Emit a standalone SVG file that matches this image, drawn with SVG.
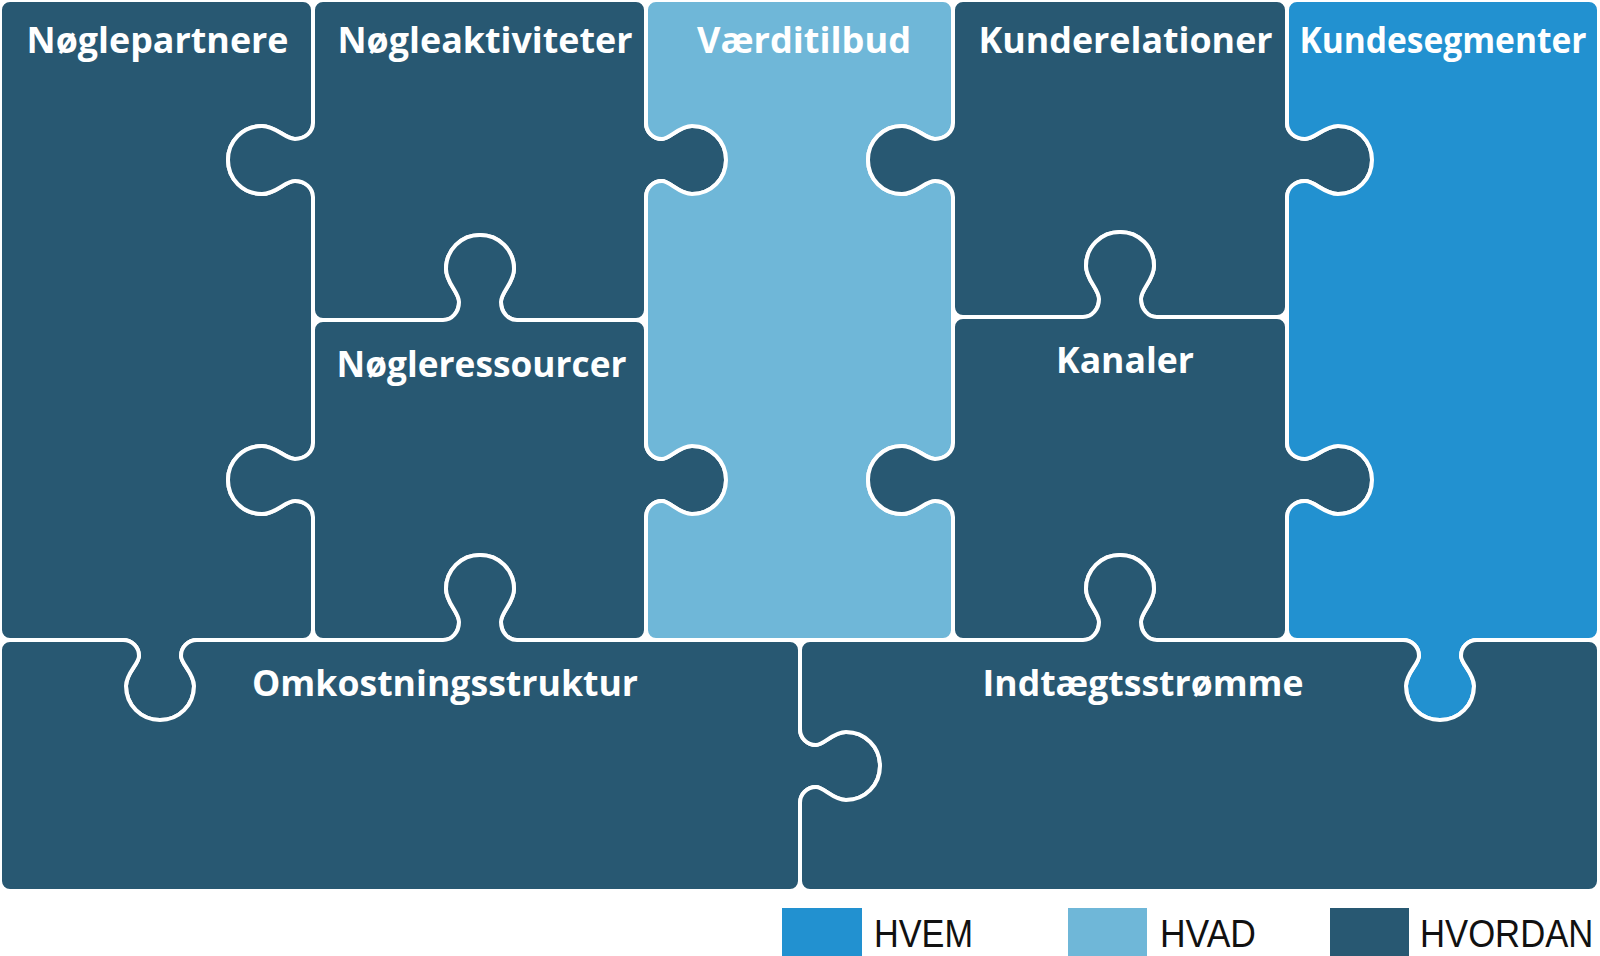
<svg xmlns="http://www.w3.org/2000/svg" width="1600" height="956" viewBox="0 0 1600 956">
<style>
.p{stroke:#fff;stroke-width:4;stroke-linejoin:round}
.d{fill:#285872}
.l{fill:#6fb7d8}
.b{fill:#2291d0}
.t{font-family:"Open Sans","Noto Sans","DejaVu Sans",sans-serif;font-weight:700;font-size:36px;fill:#fff;text-anchor:middle}
.g{font-family:"Liberation Sans",Arial,sans-serif;font-size:39px;fill:#111}
</style>
<rect width="1600" height="956" fill="#fff"/>
<g id="noeglepartnere">
<path class="p d" d="M10,0 H303 A10,10 0 0 1 313,10 V123 c0,9 -8,16 -18,16 c-10,0 -19,-13 -33,-13 c-19,0 -34,15 -34,34 c0,19 15,34 34,34 c14,0 23,-13 33,-13 c10,0 18,7 18,16 V443 c0,9 -8,16 -18,16 c-10,0 -19,-13 -33,-13 c-19,0 -34,15 -34,34 c0,19 15,34 34,34 c14,0 23,-13 33,-13 c10,0 18,7 18,16 V630 A10,10 0 0 1 303,640 H197 c-9,0 -16,7 -16,16 c0,8 13,17 13,30 c0,19 -15,34 -34,34 c-19,0 -34,-15 -34,-34 c0,-13 13,-22 13,-30 c0,-9 -7,-16 -16,-16 H10 A10,10 0 0 1 0,630 V10 A10,10 0 0 1 10,0 Z"/>
<text class="t" transform="translate(157.5,53) scale(0.92,1)" textLength="284.8" lengthAdjust="spacingAndGlyphs">Nøglepartnere</text>
</g>
<g id="noegleaktiviteter">
<path class="p d" d="M323,0 H636 A10,10 0 0 1 646,10 V123 c0,9 7,16 16,16 c8,0 17,-13 30,-13 c19,0 34,15 34,34 c0,19 -15,34 -34,34 c-13,0 -22,-13 -30,-13 c-9,0 -16,7 -16,16 V310 A10,10 0 0 1 636,320 H517 c-9,0 -16,-8 -16,-18 c0,-10 13,-19 13,-33 c0,-19 -15,-34 -34,-34 c-19,0 -34,15 -34,34 c0,14 13,23 13,33 c0,10 -7,18 -16,18 H323 A10,10 0 0 1 313,310 V197 c0,-9 -8,-16 -18,-16 c-10,0 -19,13 -33,13 c-19,0 -34,-15 -34,-34 c0,-19 15,-34 34,-34 c14,0 23,13 33,13 c10,0 18,-7 18,-16 V10 A10,10 0 0 1 323,0 Z"/>
<text class="t" transform="translate(485,53) scale(0.92,1)" textLength="320.7" lengthAdjust="spacingAndGlyphs">Nøgleaktiviteter</text>
</g>
<g id="noegleressourcer">
<path class="p d" d="M323,320 H443 c9,0 16,-8 16,-18 c0,-10 -13,-19 -13,-33 c0,-19 15,-34 34,-34 c19,0 34,15 34,34 c0,14 -13,23 -13,33 c0,10 7,18 16,18 H636 A10,10 0 0 1 646,330 V443 c0,9 7,16 16,16 c8,0 17,-13 30,-13 c19,0 34,15 34,34 c0,19 -15,34 -34,34 c-13,0 -22,-13 -30,-13 c-9,0 -16,7 -16,16 V630 A10,10 0 0 1 636,640 H517 c-9,0 -16,-8 -16,-18 c0,-10 13,-19 13,-33 c0,-19 -15,-34 -34,-34 c-19,0 -34,15 -34,34 c0,14 13,23 13,33 c0,10 -7,18 -16,18 H323 A10,10 0 0 1 313,630 V517 c0,-9 -8,-16 -18,-16 c-10,0 -19,13 -33,13 c-19,0 -34,-15 -34,-34 c0,-19 15,-34 34,-34 c14,0 23,13 33,13 c10,0 18,-7 18,-16 V330 A10,10 0 0 1 323,320 Z"/>
<text class="t" transform="translate(481.5,377) scale(0.92,1)" textLength="315.2" lengthAdjust="spacingAndGlyphs">Nøgleressourcer</text>
</g>
<g id="vaerditilbud">
<path class="p l" d="M656,0 H943 A10,10 0 0 1 953,10 V123 c0,9 -8,16 -18,16 c-10,0 -19,-13 -33,-13 c-19,0 -34,15 -34,34 c0,19 15,34 34,34 c14,0 23,-13 33,-13 c10,0 18,7 18,16 V443 c0,9 -8,16 -18,16 c-10,0 -19,-13 -33,-13 c-19,0 -34,15 -34,34 c0,19 15,34 34,34 c14,0 23,-13 33,-13 c10,0 18,7 18,16 V630 A10,10 0 0 1 943,640 H656 A10,10 0 0 1 646,630 V517 c0,-9 7,-16 16,-16 c8,0 17,13 30,13 c19,0 34,-15 34,-34 c0,-19 -15,-34 -34,-34 c-13,0 -22,13 -30,13 c-9,0 -16,-7 -16,-16 V197 c0,-9 7,-16 16,-16 c8,0 17,13 30,13 c19,0 34,-15 34,-34 c0,-19 -15,-34 -34,-34 c-13,0 -22,13 -30,13 c-9,0 -16,-7 -16,-16 V10 A10,10 0 0 1 656,0 Z"/>
<text class="t" transform="translate(804,53) scale(0.92,1)" textLength="232.6" lengthAdjust="spacingAndGlyphs">Værditilbud</text>
</g>
<g id="kunderelationer">
<path class="p d" d="M963,0 H1277 A10,10 0 0 1 1287,10 V123 c0,9 8,16 18,16 c10,0 19,-13 33,-13 c19,0 34,15 34,34 c0,19 -15,34 -34,34 c-14,0 -23,-13 -33,-13 c-10,0 -18,7 -18,16 V307 A10,10 0 0 1 1277,317 H1157 c-9,0 -16,-8 -16,-18 c0,-10 13,-19 13,-33 c0,-19 -15,-34 -34,-34 c-19,0 -34,15 -34,34 c0,14 13,23 13,33 c0,10 -7,18 -16,18 H963 A10,10 0 0 1 953,307 V197 c0,-9 -8,-16 -18,-16 c-10,0 -19,13 -33,13 c-19,0 -34,-15 -34,-34 c0,-19 15,-34 34,-34 c14,0 23,13 33,13 c10,0 18,-7 18,-16 V10 A10,10 0 0 1 963,0 Z"/>
<text class="t" transform="translate(1125.5,53) scale(0.92,1)" textLength="319.6" lengthAdjust="spacingAndGlyphs">Kunderelationer</text>
</g>
<g id="kanaler">
<path class="p d" d="M963,317 H1083 c9,0 16,-8 16,-18 c0,-10 -13,-19 -13,-33 c0,-19 15,-34 34,-34 c19,0 34,15 34,34 c0,14 -13,23 -13,33 c0,10 7,18 16,18 H1277 A10,10 0 0 1 1287,327 V443 c0,9 8,16 18,16 c10,0 19,-13 33,-13 c19,0 34,15 34,34 c0,19 -15,34 -34,34 c-14,0 -23,-13 -33,-13 c-10,0 -18,7 -18,16 V630 A10,10 0 0 1 1277,640 H1157 c-9,0 -16,-8 -16,-18 c0,-10 13,-19 13,-33 c0,-19 -15,-34 -34,-34 c-19,0 -34,15 -34,34 c0,14 13,23 13,33 c0,10 -7,18 -16,18 H963 A10,10 0 0 1 953,630 V517 c0,-9 -8,-16 -18,-16 c-10,0 -19,13 -33,13 c-19,0 -34,-15 -34,-34 c0,-19 15,-34 34,-34 c14,0 23,13 33,13 c10,0 18,-7 18,-16 V327 A10,10 0 0 1 963,317 Z"/>
<text class="t" transform="translate(1125,373) scale(0.92,1)" textLength="150" lengthAdjust="spacingAndGlyphs">Kanaler</text>
</g>
<g id="kundesegmenter">
<path class="p b" d="M1297,0 H1589 A10,10 0 0 1 1599,10 V630 A10,10 0 0 1 1589,640 H1477 c-9,0 -16,7 -16,16 c0,8 13,17 13,30 c0,19 -15,34 -34,34 c-19,0 -34,-15 -34,-34 c0,-13 13,-22 13,-30 c0,-9 -7,-16 -16,-16 H1297 A10,10 0 0 1 1287,630 V517 c0,-9 8,-16 18,-16 c10,0 19,13 33,13 c19,0 34,-15 34,-34 c0,-19 -15,-34 -34,-34 c-14,0 -23,13 -33,13 c-10,0 -18,-7 -18,-16 V197 c0,-9 8,-16 18,-16 c10,0 19,13 33,13 c19,0 34,-15 34,-34 c0,-19 -15,-34 -34,-34 c-14,0 -23,13 -33,13 c-10,0 -18,-7 -18,-16 V10 A10,10 0 0 1 1297,0 Z"/>
<text class="t" transform="translate(1443,53) scale(0.92,1)" textLength="312" lengthAdjust="spacingAndGlyphs">Kundesegmenter</text>
</g>
<g id="omkostningsstruktur">
<path class="p d" d="M10,640 H123 c9,0 16,7 16,16 c0,8 -13,17 -13,30 c0,19 15,34 34,34 c19,0 34,-15 34,-34 c0,-13 -13,-22 -13,-30 c0,-9 7,-16 16,-16 H443 c9,0 16,-8 16,-18 c0,-10 -13,-19 -13,-33 c0,-19 15,-34 34,-34 c19,0 34,15 34,34 c0,14 -13,23 -13,33 c0,10 7,18 16,18 H790 A10,10 0 0 1 800,650 V729 c0,9 7,16 16,16 c8,0 17,-13 30,-13 c19,0 34,15 34,34 c0,19 -15,34 -34,34 c-13,0 -22,-13 -30,-13 c-9,0 -16,7 -16,16 V881 A10,10 0 0 1 790,891 H10 A10,10 0 0 1 0,881 V650 A10,10 0 0 1 10,640 Z"/>
<text class="t" transform="translate(445,696) scale(0.92,1)" textLength="419.6" lengthAdjust="spacingAndGlyphs">Omkostningsstruktur</text>
</g>
<g id="indtaegtsstroemme">
<path class="p d" d="M810,640 H1083 c9,0 16,-8 16,-18 c0,-10 -13,-19 -13,-33 c0,-19 15,-34 34,-34 c19,0 34,15 34,34 c0,14 -13,23 -13,33 c0,10 7,18 16,18 H1403 c9,0 16,7 16,16 c0,8 -13,17 -13,30 c0,19 15,34 34,34 c19,0 34,-15 34,-34 c0,-13 -13,-22 -13,-30 c0,-9 7,-16 16,-16 H1589 A10,10 0 0 1 1599,650 V881 A10,10 0 0 1 1589,891 H810 A10,10 0 0 1 800,881 V803 c0,-9 7,-16 16,-16 c8,0 17,13 30,13 c19,0 34,-15 34,-34 c0,-19 -15,-34 -34,-34 c-13,0 -22,13 -30,13 c-9,0 -16,-7 -16,-16 V650 A10,10 0 0 1 810,640 Z"/>
<text class="t" transform="translate(1143,696) scale(0.92,1)" textLength="348.9" lengthAdjust="spacingAndGlyphs">Indtægtsstrømme</text>
</g>
<g id="legend">
<g id="legend-hvem"><rect x="782" y="908" width="80" height="48" class="b"/><text class="g" transform="translate(874,947) scale(0.88,1)" textLength="112.5" lengthAdjust="spacingAndGlyphs">HVEM</text></g>
<g id="legend-hvad"><rect x="1068" y="908" width="79" height="48" class="l"/><text class="g" transform="translate(1160,947) scale(0.88,1)" textLength="109" lengthAdjust="spacingAndGlyphs">HVAD</text></g>
<g id="legend-hvordan"><rect x="1330" y="908" width="79" height="48" class="d"/><text class="g" transform="translate(1420,947) scale(0.88,1)" textLength="197" lengthAdjust="spacingAndGlyphs">HVORDAN</text></g>
</g>
<g id="connectors"/>
</svg>
